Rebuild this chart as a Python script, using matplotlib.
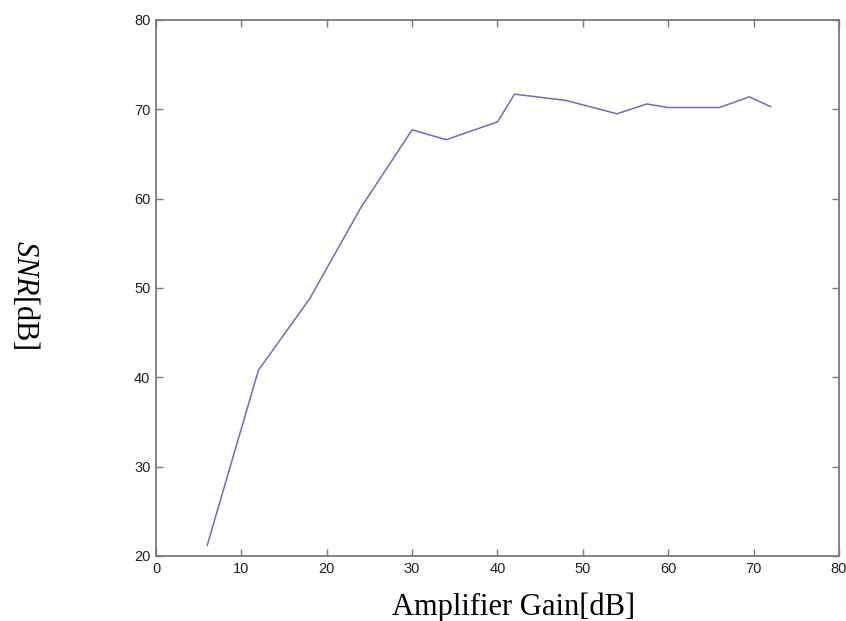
import matplotlib
matplotlib.use('Agg')
import matplotlib.pyplot as plt

plt.rcParams['mathtext.fontset'] = 'custom'
plt.rcParams['mathtext.it'] = 'Liberation Serif:italic'
plt.rcParams['mathtext.rm'] = 'Liberation Serif'

gain = [6, 12, 18, 24, 30, 34, 40, 42, 48, 54, 57.5, 60, 66, 69.5, 72]
snr = [21.2, 40.8, 48.8, 59.0, 67.7, 66.6, 68.6, 71.7, 71.0, 69.5, 70.6, 70.2, 70.2, 71.4, 70.3]

fig = plt.figure(figsize=(8.46, 6.21), dpi=100)
ax = fig.add_axes([0.1844, 0.1047, 0.8073, 0.8631])

ax.plot(gain, snr, color='#6c6cc4', linewidth=1.1)

ax.set_xlim(0, 80)
ax.set_ylim(20, 80)
ax.set_xticks(range(0, 81, 10))
ax.set_yticks(range(20, 81, 10))

for s in ax.spines.values():
    s.set_color('#7a7a7a')
    s.set_linewidth(1.3)
ax.tick_params(direction='in', length=5, width=1, colors='#7a7a7a',
               top=True, right=True, labelsize=10.5, labelcolor='#222222', pad=4)
for lab in ax.get_xticklabels() + ax.get_yticklabels():
    lab.set_family('Liberation Sans')

fig.text(0.463, 0.0097, 'Amplifier Gain[dB]', ha='left', va='baseline',
         fontsize=22, family='Liberation Serif')
fig.text(0.0296, 0.5258, r'$\mathit{SNR}$[dB]', ha='center', va='center',
         rotation=-90, fontsize=22, family='Liberation Serif')

fig.savefig('out.png', dpi=100)
